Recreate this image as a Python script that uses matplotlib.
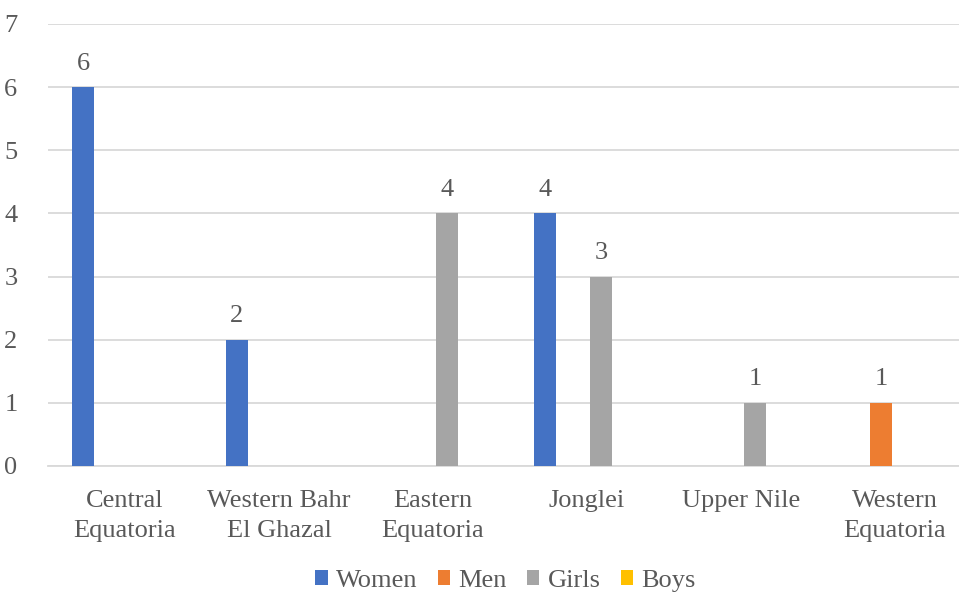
import matplotlib
matplotlib.use("Agg")
import matplotlib.pyplot as plt
import numpy as np
from matplotlib.patches import Patch

categories = ["Central\nEquatoria", "Western Bahr\nEl Ghazal", "Eastern\nEquatoria",
              "Jonglei", "Upper Nile", "Western\nEquatoria"]
series_names = ["Women", "Men", "Girls", "Boys"]
women = [6, 2, 0, 4, 0, 0]
men = [0, 0, 0, 0, 0, 1]
girls = [0, 0, 4, 3, 1, 0]
boys = [0, 0, 0, 0, 0, 0]
colors = ["#4472C4", "#ED7D31", "#A5A5A5", "#FFC000"]
yticks = [0, 1, 2, 3, 4, 5, 6, 7]

plt.rcParams['font.family'] = ['Liberation Serif', 'DejaVu Serif']
text_color = "#595959"
fs = 19

W, H = 959, 595
fig = plt.figure(figsize=(W / 100, H / 100), dpi=100)
left, right, top, bottom = 48, 972, 24, 466
ax = fig.add_axes([left / W, (H - bottom) / H, (right - left) / W, (bottom - top) / H])

x = np.arange(len(categories))
slot = 0.182
bw = 0.143
data = [women, men, girls, boys]
for i, (name, vals, c) in enumerate(zip(series_names, data, colors)):
    pos = x + (i - 1.5) * slot
    ax.bar(pos, vals, width=bw, color=c, zorder=3)
    for p, v in zip(pos, vals):
        if v > 0:
            ax.annotate(str(v), (p, v), xytext=(0, 9), textcoords="offset points",
                        ha="center", va="bottom", fontsize=fs, color=text_color)

ax.set_xlim(-0.5, 5.5)
ax.set_ylim(0, 7)
ax.set_yticks(yticks)
ax.set_xticks(x)
ax.set_xticklabels(categories, fontsize=fs, color=text_color, linespacing=1.5)
ax.tick_params(axis='y', labelsize=fs, labelcolor=text_color, length=0, pad=22)
ax.tick_params(axis='x', length=0, pad=17)
ax.grid(axis='y', color="#D9D9D9", linewidth=1.3, zorder=0)
for s in ["top", "right", "left"]:
    ax.spines[s].set_visible(False)
ax.spines["bottom"].set_color("#D9D9D9")
ax.spines["bottom"].set_linewidth(1.3)

handles = [Patch(facecolor=c, edgecolor='none') for c in colors]
fig.legend(handles, series_names, loc="center", bbox_to_anchor=(0.527, 0.024),
           ncol=4, frameon=False, fontsize=fs, labelcolor=text_color,
           handlelength=0.48, handleheight=0.48, handletextpad=0.3, columnspacing=0.77,
           borderpad=0.0)

fig.savefig("out.png", dpi=100)
